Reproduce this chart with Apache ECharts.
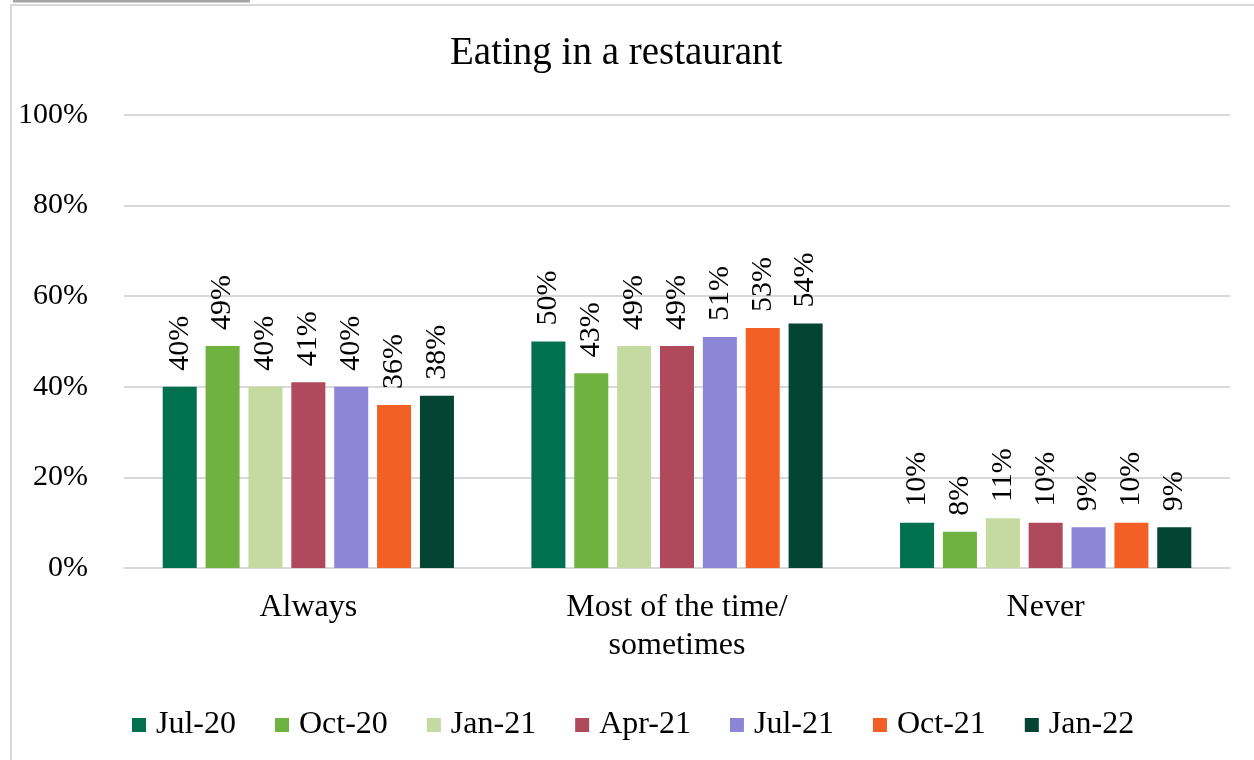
<!DOCTYPE html>
<html>
<head>
<meta charset="utf-8">
<script src="https://cdn.jsdelivr.net/npm/echarts@6/dist/echarts.min.js"></script>
<style>
  html, body { margin: 0; padding: 0; background: #fff; }
  #main { width: 1254px; height: 760px; }
</style>
</head>
<body>
<div id="main"></div>
<script>
const categories = ["Always", "Most of the time/\nsometimes", "Never"];
const seriesNames = ["Jul-20", "Oct-20", "Jan-21", "Apr-21", "Jul-21", "Oct-21", "Jan-22"];
const jul20 = [40, 50, 10];
const oct20 = [49, 43, 8];
const jan21 = [40, 49, 11];
const apr21 = [41, 49, 10];
const jul21 = [40, 51, 9];
const oct21 = [36, 53, 10];
const jan22 = [38, 54, 9];
const yTicks = [0, 20, 40, 60, 80, 100];

const colors = ["#00704f", "#70b23f", "#c5daa0", "#ae4a5b", "#8d86d6", "#f26026", "#034432"];
const allValues = [jul20, oct20, jan21, apr21, jul21, oct21, jan22];
const font = "'Liberation Serif', 'Times New Roman', serif";

const myChart = echarts.init(document.getElementById("main"));

myChart.setOption({
  animation: false,
  textStyle: { fontFamily: font },
  title: {
    text: "Eating in a restaurant",
    left: 445,
    top: 29,
    textStyle: { fontFamily: font, fontSize: 39, fontWeight: "normal", color: "#000" },
  },
  // outer frame, as in the source picture
  graphic: [
    {
      type: "rect",
      silent: true,
      shape: { x: 11, y: 5, width: 1300, height: 800 },
      style: { fill: "none", stroke: "#d9d9d9", lineWidth: 2 },
    },
    {
      type: "rect",
      silent: true,
      shape: { x: 13, y: 0, width: 237, height: 2.5 },
      style: { fill: "#a6a6a6" },
    },
  ],
  legend: {
    data: seriesNames,
    top: 704,
    left: 127,
    icon: "rect",
    itemWidth: 14,
    itemHeight: 14,
    itemGap: 39,
    textStyle: { fontFamily: font, fontSize: 32, color: "#000", padding: [0, 0, 0, 5] },
  },
  grid: { left: 124, right: 24, top: 115, bottom: 192 },
  xAxis: {
    type: "category",
    data: categories,
    axisLine: { lineStyle: { color: "#d9d9d9", width: 2 } },
    axisTick: { show: false },
    axisLabel: {
      fontFamily: font,
      fontSize: 32,
      color: "#000",
      lineHeight: 38,
      margin: 21,
    },
  },
  yAxis: {
    type: "value",
    min: yTicks[0],
    max: yTicks[yTicks.length - 1],
    interval: 20,
    axisLine: { show: false },
    axisTick: { show: false },
    splitLine: { lineStyle: { color: "#d9d9d9", width: 2 } },
    axisLabel: {
      fontFamily: font,
      fontSize: 30,
      color: "#000",
      margin: 36,
      formatter: "{value}%",
    },
  },
  series: seriesNames.map((name, i) => ({
    name: name,
    type: "bar",
    data: allValues[i],
    barGap: "26%",
    barCategoryGap: "21%",
    itemStyle: { color: colors[i] },
    label: {
      show: true,
      position: "top",
      rotate: 90,
      align: "left",
      verticalAlign: "middle",
      distance: 16,
      fontFamily: font,
      fontSize: 30,
      color: "#000",
      formatter: "{c}%",
    },
  })),
});
</script>
</body>
</html>
